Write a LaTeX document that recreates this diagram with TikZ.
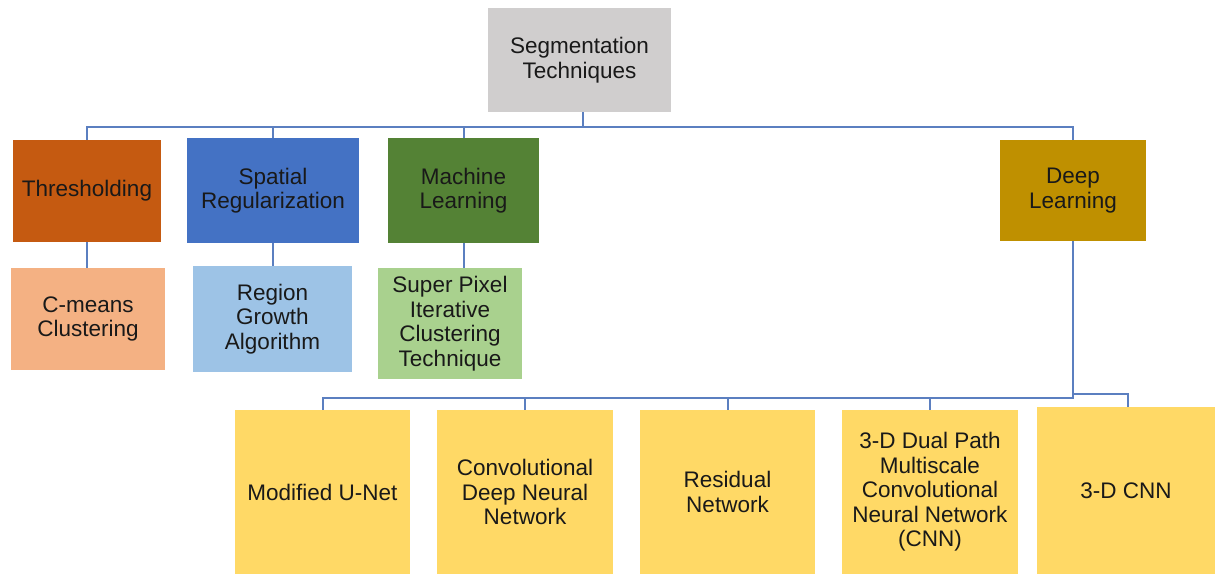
\documentclass[tikz,border=0pt]{standalone}
\usepackage{fontspec}
\setmainfont{Liberation Sans}
\begin{document}
\begin{tikzpicture}[x=1pt,y=-1pt,
  box/.style={draw=none, inner sep=0pt, align=center, text=black!90,
    font=\fontsize{22.5}{24.5}\selectfont},
  conn/.style={draw=linecol, line width=2pt}]
\definecolor{rootcol}{HTML}{D0CECE}
\definecolor{thrcol}{HTML}{C55A11}
\definecolor{spacol}{HTML}{4472C4}
\definecolor{maccol}{HTML}{548235}
\definecolor{deecol}{HTML}{BF9000}
\definecolor{cmcol}{HTML}{F4B183}
\definecolor{regcol}{HTML}{9DC3E6}
\definecolor{supcol}{HTML}{A9D18E}
\definecolor{yelcol}{HTML}{FFD966}
\definecolor{linecol}{HTML}{5B7FC0}
\useasboundingbox (0,0) rectangle (1215,574);
% boxes
\node[box, fill=rootcol, minimum width=183pt, minimum height=104pt] (root) at (579.5,60) {Segmentation\\Techniques};
\node[box, fill=thrcol, minimum width=148pt, minimum height=102pt] (thr) at (87,191) {Thresholding};
\node[box, fill=spacol, minimum width=172pt, minimum height=105pt] (spa) at (273,190.5) {Spatial\\Regularization};
\node[box, fill=maccol, minimum width=151pt, minimum height=105pt] (mac) at (463.5,190.5) {Machine\\Learning};
\node[box, fill=deecol, minimum width=146pt, minimum height=101pt] (dee) at (1073,190.5) {Deep\\Learning};
\node[box, fill=cmcol, minimum width=154pt, minimum height=102pt] (cm) at (88,319) {C-means\\Clustering};
\node[box, fill=regcol, minimum width=159pt, minimum height=106pt] (reg) at (272.5,319) {Region\\Growth\\Algorithm};
\node[box, fill=supcol, minimum width=144pt, minimum height=111pt] (sup) at (450,323.5) {Super Pixel\\Iterative\\Clustering\\Technique};
\node[box, fill=yelcol, minimum width=175pt, minimum height=164pt] (unet) at (322.5,492) {Modified U-Net};
\node[box, fill=yelcol, minimum width=176pt, minimum height=164pt] (cdnn) at (525,492) {Convolutional\\Deep Neural\\Network};
\node[box, fill=yelcol, minimum width=175pt, minimum height=164pt] (res) at (727.5,492) {Residual\\Network};
\node[box, fill=yelcol, minimum width=176pt, minimum height=164pt] (dual) at (930,492) {3-D Dual Path\\Multiscale\\Convolutional\\Neural Network\\(CNN)};
\node[box, fill=yelcol, minimum width=178pt, minimum height=167pt] (cnn) at (1126,490.5) {3-D CNN};
% coordinates
\coordinate (bus) at (583,127);
\coordinate (bus2) at (1073,398);
\coordinate (bus3) at (1073,394);
% top tree
\draw[conn] (root.south -| bus) -- (bus);
\draw[conn] (thr.north) -- (thr.north |- bus) -- (dee.north |- bus) -- (dee.north);
\draw[conn] (spa.north) -- (spa.north |- bus);
\draw[conn] (mac.north) -- (mac.north |- bus);
% second level
\draw[conn] (thr.south) -- (cm.north -| thr.south);
\draw[conn] (spa.south) -- (reg.north -| spa.south);
\draw[conn] (mac.south) -- (sup.north -| mac.south);
% deep learning tree
\draw[conn] (dee.south) -- (bus2) -- (unet.north |- bus2) -- (unet.north);
\draw[conn] (cdnn.north) -- (cdnn.north |- bus2);
\draw[conn] (res.north) -- (res.north |- bus2);
\draw[conn] (dual.north) -- (dual.north |- bus2);
\draw[conn] (bus3) -- (bus3 -| 1128,0) -- (1128,407);
\end{tikzpicture}
\end{document}
